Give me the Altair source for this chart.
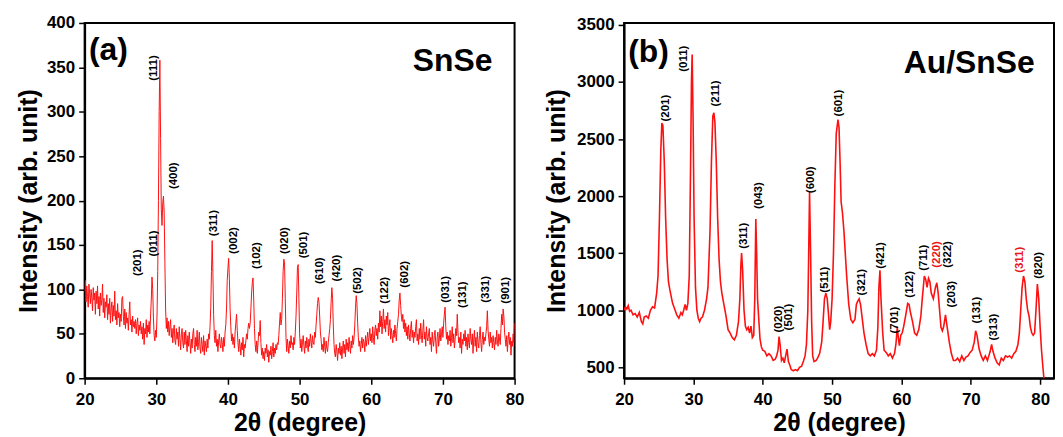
import altair as alt
import pandas as pd

# ---------------- Panel (a): SnSe, sampled every 0.1 degree from 20.0 to 80.0 ----------------
a_intensity = [
    98, 110, 86, 104, 92, 80, 106, 95, 84, 100,
    90, 76, 102, 88, 96, 72, 98, 84, 104, 78,
    92, 70, 96, 82, 88, 106, 74, 90, 68, 86,
    80, 94, 66, 84, 72, 90, 62, 78, 86, 64,
    82, 70, 98, 66, 76, 60, 84, 68, 74, 58,
    72, 64, 90, 92, 70, 60, 78, 56, 74, 62,
    68, 54, 72, 86, 60, 66, 52, 70, 58, 64,
    56, 66, 50, 62, 68, 48, 60, 54, 64, 50,
    58, 44, 62, 38, 56, 50, 66, 46, 60, 52,
    64, 50, 70, 88, 114, 100, 68, 48, 42, 54,
    46, 70, 120, 200, 300, 358, 270, 190, 172, 198,
    205, 186, 130, 78, 56, 68, 52, 64, 48, 58,
    66, 46, 56, 40, 54, 60, 42, 38, 56, 44,
    52, 36, 58, 44, 32, 50, 56, 40, 34, 52,
    38, 54, 42, 30, 48, 36, 52, 40, 28, 44,
    34, 50, 56, 38, 30, 46, 36, 54, 32, 40,
    52, 34, 28, 46, 38, 30, 48, 26, 42, 36,
    30, 44, 34, 50, 44, 58, 80, 120, 155, 118,
    72, 48, 40, 54, 36, 44, 30, 42, 50, 38,
    34, 46, 40, 30, 46, 36, 52, 60, 78, 110,
    124, 135, 112, 78, 58, 42, 50, 38, 46, 34,
    52, 62, 72, 54, 40, 30, 44, 36, 26, 40,
    32, 46, 24, 38, 34, 42, 50, 44, 56, 62,
    56, 62, 78, 96, 108, 113, 88, 56, 38, 30,
    42, 28, 40, 52, 48, 65, 40, 26, 34, 22,
    30, 20, 34, 28, 38, 24, 32, 18, 30, 26,
    36, 22, 30, 40, 24, 34, 28, 38, 32, 40,
    38, 48, 62, 74, 60, 66, 90, 120, 134, 130,
    90, 46, 30, 44, 36, 28, 42, 34, 48, 38,
    40, 32, 46, 38, 52, 70, 96, 125, 128, 90,
    50, 34, 44, 30, 40, 48, 36, 28, 42, 34,
    46, 38, 30, 44, 36, 50, 42, 34, 48, 40,
    38, 52, 46, 60, 72, 84, 91, 86, 70, 52,
    44, 32, 38, 30, 46, 36, 28, 42, 34, 30,
    40, 48, 56, 66, 86, 102, 90, 60, 38, 28,
    24, 38, 30, 20, 34, 28, 40, 26, 36, 22,
    34, 42, 28, 38, 24, 44, 32, 40, 30, 46,
    36, 28, 42, 34, 48, 38, 46, 60, 80, 93,
    84, 62, 46, 36, 42, 30, 38, 46, 34, 44,
    40, 30, 48, 36, 44, 52, 38, 46, 56, 42,
    50, 40, 58, 46, 38, 54, 60, 48, 56, 44,
    62, 52, 76, 58, 70, 50, 64, 78, 56, 66,
    52, 70, 60, 74, 48, 58, 66, 44, 56, 48,
    40, 54, 46, 60, 50, 42, 56, 64, 72, 88,
    96, 82, 70, 64, 72, 56, 66, 52, 62, 48,
    58, 44, 60, 50, 42, 56, 64, 46, 54, 40,
    52, 46, 58, 66, 42, 50, 38, 56, 44, 62,
    48, 40, 54, 66, 44, 52, 36, 58, 46, 42,
    50, 56, 38, 46, 30, 52, 42, 36, 48, 54,
    40, 28, 46, 52, 36, 44, 56, 42, 50, 58,
    46, 62, 72, 80, 58, 44, 52, 38, 48, 42,
    54, 36, 46, 58, 40, 50, 34, 44, 56, 48,
    72, 52, 40, 46, 34, 52, 28, 44, 38, 50,
    42, 54, 36, 46, 32, 50, 40, 34, 56, 44,
    38, 50, 28, 44, 54, 36, 46, 30, 52, 40,
    34, 48, 58, 40, 30, 44, 52, 38, 46, 42,
    50, 58, 76, 54, 44, 36, 52, 40, 46, 34,
    48, 40, 32, 46, 38, 54, 42, 36, 50, 44,
    38, 56, 72, 60, 78, 70, 52, 44, 36, 48,
    30, 44, 52, 38, 46, 26, 42, 36, 50, 40,
    62,
]
a_two_theta = [round(20.0 + 0.1 * i, 1) for i in range(len(a_intensity))]

a_label_text = ["(201)", "(011)", "(111)", "(400)", "(311)", "(002)", "(102)", "(020)", "(501)",
                "(610)", "(420)", "(502)", "(122)", "(602)", "(031)", "(131)", "(331)", "(901)"]
a_label_x = [27.4, 29.7, 29.7, 32.5, 38.1, 40.8, 44.0, 47.9, 50.6,
             52.9, 55.2, 58.2, 61.9, 64.7, 70.5, 72.8, 76.0, 78.8]
a_label_y = [115, 137, 335, 213, 160, 140, 123, 140, 135,
             106, 109, 95, 84, 102, 85, 79, 85, 84]

# ---------------- Panel (b): Au/SnSe ----------------
b_two_theta = [
    20.0, 20.2, 20.4, 20.6, 20.8, 21.0, 21.3, 21.6, 21.9, 22.2, 22.5, 22.7, 22.9, 23.2, 23.5, 23.8,
    24.1, 24.4, 24.7, 24.9, 25.1, 25.3, 25.45, 25.6, 25.8, 26.0, 26.2, 26.4, 26.6, 26.8, 27.0, 27.3,
    27.6, 27.9, 28.2, 28.4, 28.6, 28.8, 29.0, 29.2, 29.4, 29.6, 29.72, 29.82, 29.95, 30.1, 30.3, 30.5,
    30.7, 30.9, 31.1, 31.3, 31.6, 31.9, 32.1, 32.4, 32.6, 32.8, 32.95, 33.1, 33.3, 33.5, 33.7, 33.9,
    34.1, 34.4, 34.7, 35.0, 35.3, 35.6, 35.9, 36.2, 36.5, 36.7, 36.85, 36.95, 37.1, 37.3, 37.5, 37.7,
    37.9, 38.1, 38.3, 38.5, 38.7, 38.85, 39.0, 39.12, 39.25, 39.4, 39.6, 39.8, 40.0, 40.3, 40.6, 40.9,
    41.2, 41.5, 41.8, 42.0, 42.2, 42.35, 42.5, 42.7, 42.9, 43.1, 43.3, 43.5, 43.7, 43.9, 44.1, 44.4,
    44.7, 45.0, 45.3, 45.6, 45.9, 46.1, 46.3, 46.5, 46.6, 46.75, 46.9, 47.05, 47.2, 47.4, 47.7, 47.9,
    48.2, 48.5, 48.7, 48.9, 49.1, 49.3, 49.5, 49.65, 49.8, 50.0, 50.2, 50.4, 50.6, 50.85, 51.0, 51.15,
    51.3, 51.5, 51.7, 51.9, 52.1, 52.4, 52.7, 53.0, 53.3, 53.5, 53.7, 53.9, 54.1, 54.3, 54.6, 54.9,
    55.2, 55.5, 55.8, 56.1, 56.4, 56.6, 56.75, 56.9, 57.05, 57.3, 57.5, 57.8, 58.1, 58.4, 58.7, 59.0,
    59.2, 59.4, 59.55, 59.7, 59.9, 60.1, 60.3, 60.6, 60.9, 61.1, 61.3, 61.6, 61.9, 62.2, 62.5, 62.8,
    63.0, 63.3, 63.5, 63.7, 63.9, 64.1, 64.3, 64.6, 64.9, 65.1, 65.3, 65.5, 65.7, 65.9, 66.1, 66.35,
    66.6, 66.9, 67.2, 67.5, 67.8, 68.1, 68.4, 68.7, 69.0, 69.3, 69.6, 69.9, 70.2, 70.5, 70.7, 70.9,
    71.2, 71.5, 71.8, 72.1, 72.4, 72.6, 72.8, 73.0, 73.2, 73.5, 73.8, 74.1, 74.4, 74.7, 75.0, 75.3,
    75.6, 75.9, 76.2, 76.5, 76.8, 77.0, 77.2, 77.4, 77.6, 77.8, 78.0, 78.2, 78.4, 78.6, 78.8, 79.0,
    79.2, 79.4, 79.6, 79.8, 80.0, 80.2, 80.4, 80.7,
]
b_intensity = [
    1000, 1030, 1010, 1040, 990, 1000, 960, 970, 940, 980, 900, 880, 940, 950, 930, 1000,
    1030, 1020, 1150, 1300, 1800, 2400, 2640, 2620, 2300, 1800, 1450, 1250, 1180, 1120, 1060, 1010,
    960, 930, 980, 960, 1000, 1050, 1000, 1060, 1300, 2300, 3000, 3240, 2700, 1800, 1200, 1000,
    930, 900, 930, 940, 1000, 1100, 1200, 1700, 2300, 2700, 2730, 2650, 2300, 1800, 1450, 1250,
    1150, 1050, 950, 830, 800, 760, 740, 780, 900, 1100, 1400, 1500, 1350, 1000, 860, 830,
    850, 800, 860, 760, 780, 1100, 1800, 1500, 1100, 950, 750, 680, 650, 640, 600, 620,
    600, 560, 570, 600, 650, 770, 700, 560, 580, 540, 600, 660, 550, 520, 480, 470,
    480, 470, 500, 510, 560, 600, 700, 1000, 1400, 2040, 1500, 900, 600, 550, 560, 580,
    620, 720, 900, 1100, 1150, 1100, 950, 830, 900, 1100, 1500, 2100, 2550, 2670, 2600, 2300,
    1950, 1850, 1700, 1500, 1300, 1050, 920, 890, 920, 1050, 1080, 1100, 1050, 950, 800, 700,
    620, 600, 620, 600, 650, 850, 1200, 1350, 1100, 800, 650, 630, 600, 620, 580, 620,
    700, 850, 760, 690, 780, 800, 850, 950, 1060, 1050, 980, 900, 800, 780, 830, 950,
    1100, 1300, 1270, 1200, 1280, 1250, 1150, 1100, 1200, 1240, 1150, 1000, 850, 820, 860, 960,
    850, 720, 620, 560, 560, 580, 550, 600, 560, 590, 600, 630, 650, 720, 820, 780,
    660, 600, 560, 600, 560, 600, 640, 700, 640, 580, 540, 520, 580, 560, 600, 590,
    600, 580, 620, 640, 700, 800, 1000, 1200, 1300, 1250, 1100, 1000, 950, 850, 800, 780,
    800, 1000, 1230, 1100, 850, 650, 500, 300,
]

b_label_text = ["(201)", "(011)", "(211)", "(311)", "(043)", "(020)", "(501)", "(600)", "(511)", "(601)", "(321)",
                "(421)", "(701)", "(122)", "(711)", "(220)", "(322)", "(203)", "(131)", "(313)", "(311)", "(820)"]
b_label_x = [26.0, 28.6, 33.2, 37.3, 39.4, 42.3, 43.8, 46.9, 49.0, 51.0, 54.3,
             57.0, 59.1, 61.3, 63.2, 65.1, 66.7, 67.3, 70.9, 73.3, 77.1, 79.8]
b_label_y = [2654, 3090, 2785, 1538, 1887, 805, 823, 2026, 1154, 2698, 1128,
             1363, 796, 1110, 1346, 1372, 1372, 1023, 884, 735, 1328, 1276]
b_label_color = ["black"] * 15 + ["#e8141b", "black", "black", "black", "black", "#e8141b", "black"]

FONT = "Liberation Sans"
LINE_RED = "#ff1010"


def make_panel(x, y, lab_text, lab_x, lab_y, lab_color, xdom, ydom, ymajor, yminor,
               tag, tag_xy, name, name_xy, width, height, ytitle_pad, line_w):
    df = pd.DataFrame({"x": x, "y": y})
    labels = pd.DataFrame({"x": lab_x, "y": lab_y, "t": lab_text, "c": lab_color})
    xvals = list(range(20, 81, 5))
    yvals = sorted(ymajor + yminor)
    major_test_y = " || ".join(f"datum.value === {v}" for v in ymajor)
    x_axis = alt.Axis(
        values=xvals, title="2θ (degree)",
        labelExpr="datum.value % 10 === 0 ? datum.label : ''",
        tickSize={"condition": {"test": "datum.value % 10 === 0", "value": 6}, "value": 3.5},
        labelFlush=False, labelPadding=7, titlePadding=3,
    )
    y_axis = alt.Axis(
        values=yvals, title="Intensity (arb. unit)", format="d",
        labelExpr=f"({major_test_y}) ? datum.label : ''",
        tickSize={"condition": {"test": major_test_y, "value": 6}, "value": 3.5},
        labelFlush=False, labelPadding=4, titlePadding=ytitle_pad,
    )
    xs = alt.Scale(domain=xdom, nice=False, zero=False)
    ys = alt.Scale(domain=ydom, nice=False, zero=False)
    line = alt.Chart(df).mark_line(color=LINE_RED, strokeWidth=line_w, clip=True).encode(
        x=alt.X("x:Q", scale=xs, axis=x_axis),
        y=alt.Y("y:Q", scale=ys, axis=y_axis),
    )
    peak_labels = alt.Chart(labels).mark_text(
        angle=270, align="left", baseline="middle", font=FONT, fontSize=11.5, fontWeight="bold"
    ).encode(
        x="x:Q", y="y:Q", text="t:N", color=alt.Color("c:N", scale=None)
    )
    tag_df = pd.DataFrame({"x": [tag_xy[0]], "y": [tag_xy[1]], "t": [tag]})
    name_df = pd.DataFrame({"x": [name_xy[0]], "y": [name_xy[1]], "t": [name]})
    tag_mark = alt.Chart(tag_df).mark_text(
        align="left", baseline="middle", font=FONT, fontSize=32, fontWeight="bold", color="black"
    ).encode(x="x:Q", y="y:Q", text="t:N")
    name_mark = alt.Chart(name_df).mark_text(
        align="right", baseline="middle", font=FONT, fontSize=32, fontWeight="bold", color="black"
    ).encode(x="x:Q", y="y:Q", text="t:N")
    return alt.layer(line, peak_labels, tag_mark, name_mark).properties(width=width, height=height)


panel_a = make_panel(
    a_two_theta, a_intensity, a_label_text, a_label_x, a_label_y, ["black"] * len(a_label_text),
    [20, 80], [0, 400], [0, 50, 100, 150, 200, 250, 300, 350, 400],
    [25, 75, 125, 175, 225, 275, 325, 375],
    "(a)", (20.6, 369), "SnSe", (76.9, 357), 432, 357, 5, 1.0,
)
panel_b = make_panel(
    b_two_theta, b_intensity, b_label_text, b_label_x, b_label_y, b_label_color,
    [20, 82], [404, 3517], [500, 1000, 1500, 2000, 2500, 3000, 3500],
    [750, 1250, 1750, 2250, 2750, 3250],
    "(b)", (20.6, 3264), "Au/SnSe", (79.2, 3169), 432, 357, 7, 1.6,
)

chart = alt.hconcat(panel_a, panel_b, spacing=110, bounds="flush").properties(
    padding={"left": 7, "top": 4, "right": 0, "bottom": 0}
).configure_view(
    stroke="black", strokeWidth=2
).configure_axis(
    grid=False,
    domainColor="black", domainWidth=2,
    tickColor="black", tickWidth=1.5,
    labelFont=FONT, labelFontWeight="bold", labelFontSize=17, labelColor="black",
    titleFont=FONT, titleFontWeight="bold", titleFontSize=25, titleColor="black",
)

chart.save("out.html", embed_options={"renderer": "svg", "actions": False})
